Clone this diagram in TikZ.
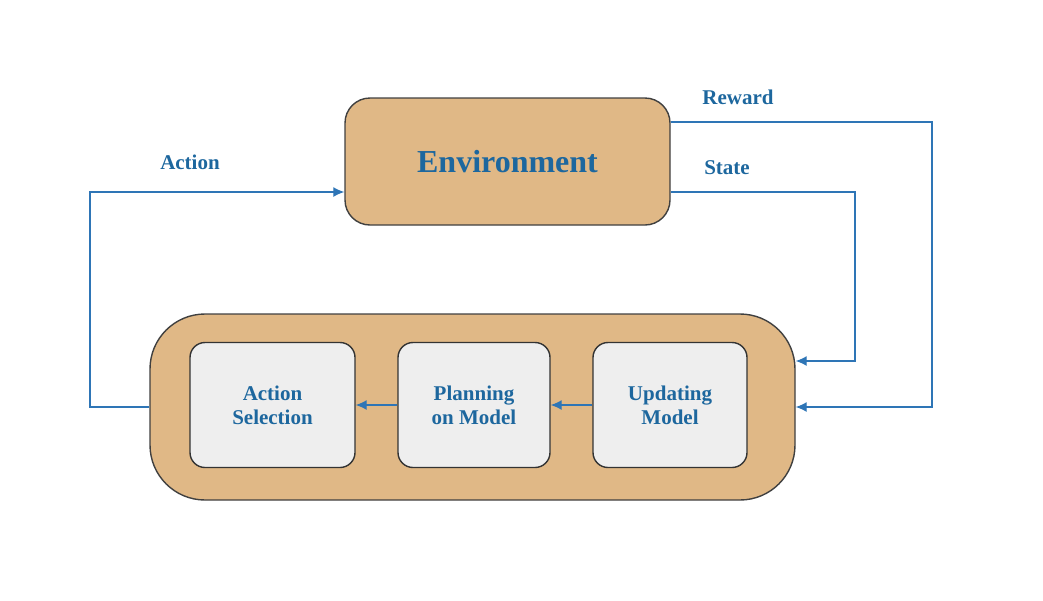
\documentclass[tikz,border=0pt]{standalone}
\usepackage{fontspec}
\setmainfont{Liberation Serif}
\usepackage{tikz}
\usetikzlibrary{arrows.meta}
\definecolor{tan}{HTML}{E0B886}
\definecolor{boxgray}{HTML}{EEEEEE}
\definecolor{txtblue}{HTML}{1D679E}
\definecolor{linblue}{HTML}{2E75B6}
\begin{document}
\begin{tikzpicture}[x=0.5pt,y=-0.5pt,
  outerbox/.style={draw=black!75,line width=0.7pt,fill=tan,text=txtblue,font=\bfseries},
  innerbox/.style={draw=black!80,line width=0.7pt,fill=boxgray,rounded corners=7.5pt,minimum height=62.5pt,text=txtblue,font=\bfseries\fontsize{10.5}{12}\selectfont,align=center},
  link/.style={draw=linblue,line width=0.65pt,-{Latex[length=5.5pt,width=5pt]}},
  lab/.style={text=txtblue,font=\bfseries\fontsize{10.5}{12}\selectfont}]%
\useasboundingbox (0,0) rectangle (1043,600);%
% environment and agent
\node[outerbox,rounded corners=12.5pt,minimum width=162.5pt,minimum height=63.5pt,font=\bfseries\fontsize{16}{18}\selectfont] (env) at (507.5,161.5) {Environment};%
\node[outerbox,rounded corners=27.5pt,minimum width=322.5pt,minimum height=93pt] (agent) at (472.5,407) {};%
% inside the agent
\node[innerbox,minimum width=82.5pt] (select) at (272.5,405) {Action\\Selection};%
\node[innerbox,minimum width=76pt] (plan) at (474,405) {Planning\\on Model};%
\node[innerbox,minimum width=77pt] (update) at (670,405) {Updating\\Model};%
\draw[link] (update) -- (plan);%
\draw[link] (plan) -- (select);%
% loops round the two boxes
\draw[link] (agent.west) -- (90,407) |- ([yshift=-15.25pt]env.west);%
\draw[link] ([yshift=19.75pt]env.east) -- (932,122) |- (agent.east);%
\draw[link] ([yshift=-15.25pt]env.east) -- (855,192) |- ([yshift=23pt]agent.east);%
% labels
\node[lab] (actlab) at (190,162) {Action};%
\node[lab] (rewlab) at (738,97) {Reward};%
\node[lab] (statelab) at (727,168) {State};%
\end{tikzpicture}
\end{document}
